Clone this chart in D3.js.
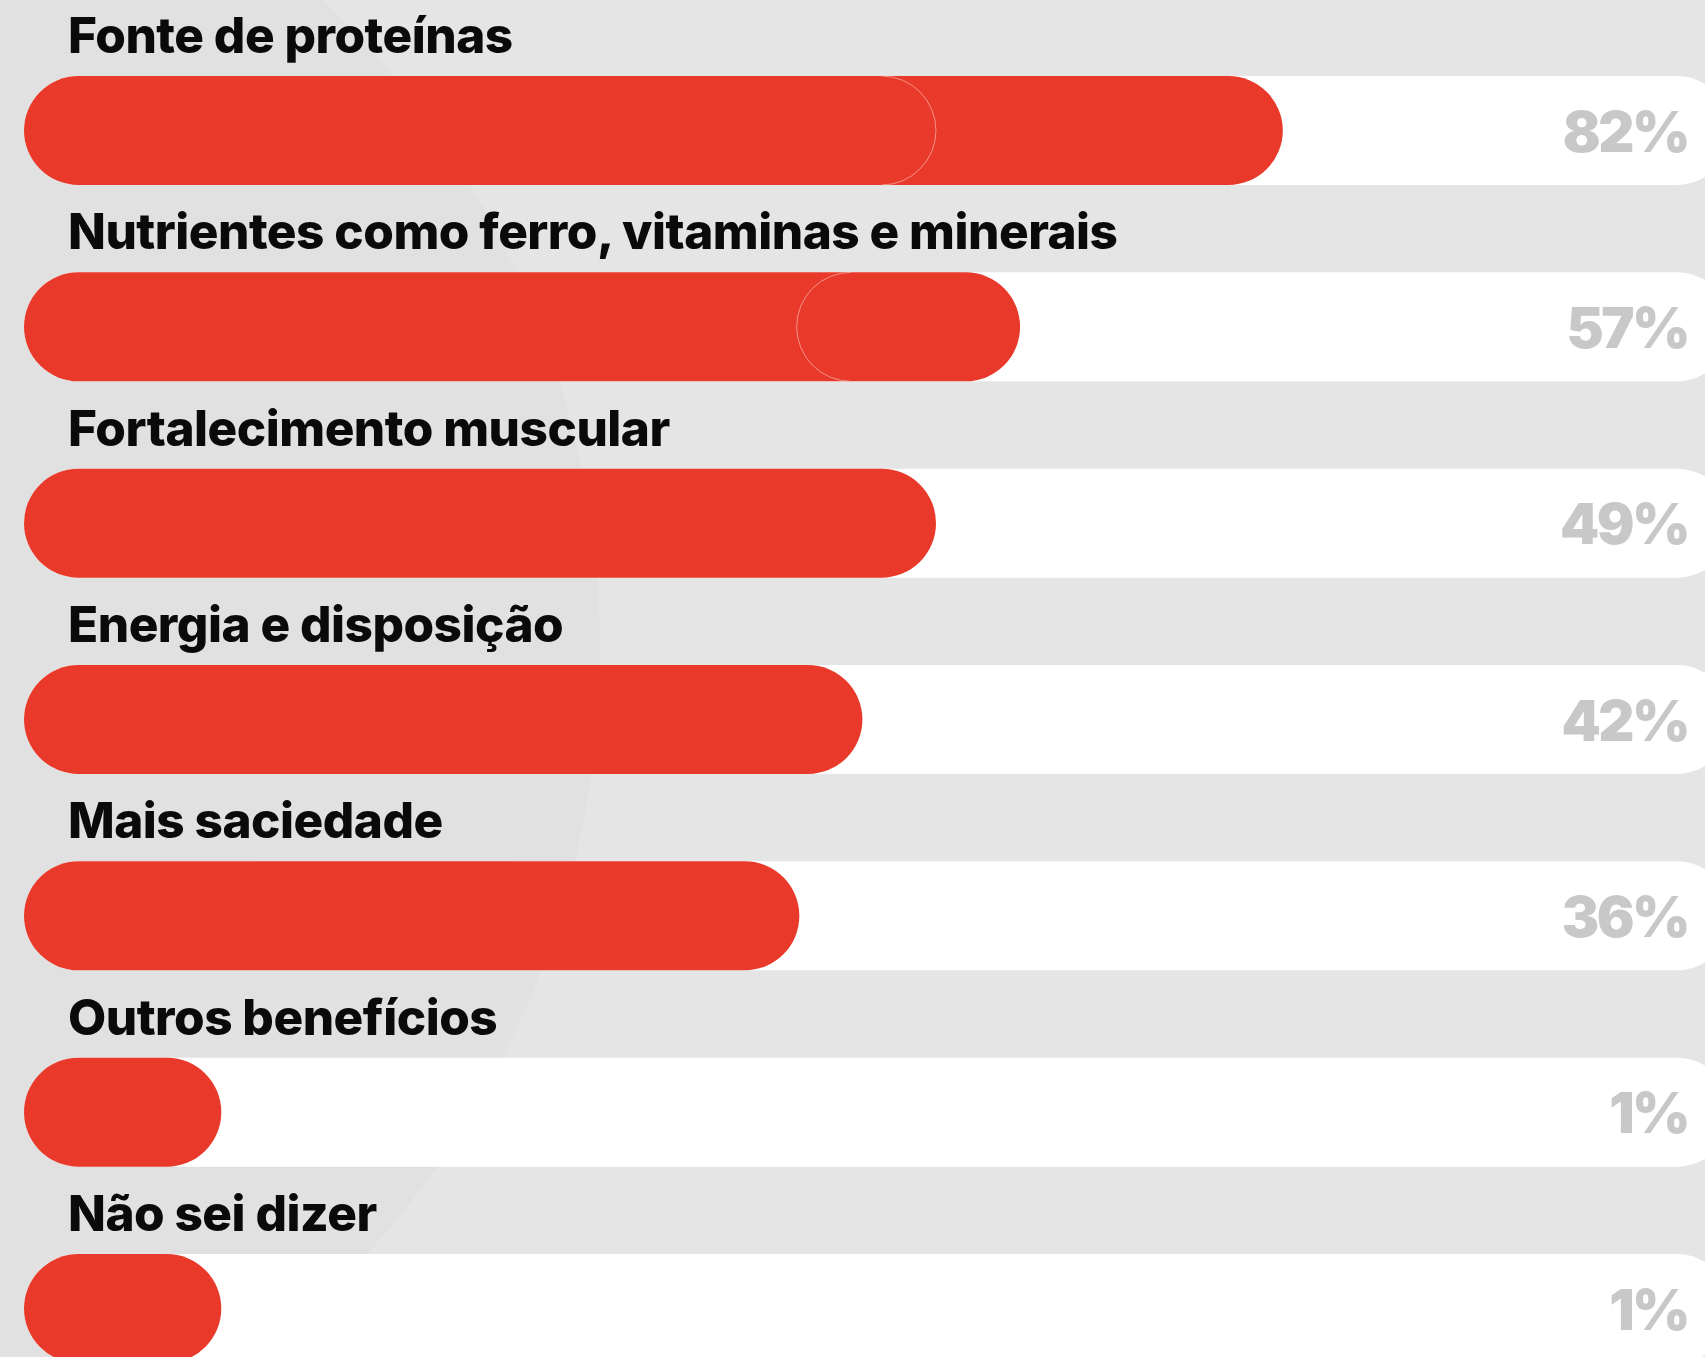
<!DOCTYPE html>
<html>
<head>
<meta charset="utf-8">
<script src="https://cdn.jsdelivr.net/npm/d3@7"></script>
<style>
  html, body { margin: 0; padding: 0; background: #e5e5e5; }
  svg { display: block; }
</style>
</head>
<body>
<svg id="chart" width="1705" height="1357"></svg>
<script>
// ---- data ----
const categories = [
  "Fonte de proteínas",
  "Nutrientes como ferro, vitaminas e minerais",
  "Fortalecimento muscular",
  "Energia e disposição",
  "Mais saciedade",
  "Outros benefícios",
  "Não sei dizer"
];
const values = [82, 57, 49, 42, 36, 1, 1];
const valueLabels = ["82%", "57%", "49%", "42%", "36%", "1%", "1%"];

// ---- layout ----
const W = 1705, H = 1357;
const barH = 109;
const barX0 = 24;
const trackEnd = 1731;
const labelX = 68;
const pctRight = 1688;
const minPill = barH * 1.81;   // stub length for very small shares
const stubBelow = 5;
const red = "#e9392a";
const labelFont = "Inter, 'Open Sans', sans-serif";

const svg = d3.select("#chart");

// background with faint large circle
svg.append("rect").attr("width", W).attr("height", H).attr("fill", "#e5e5e5");
svg.append("circle").attr("cx", -300).attr("cy", 650).attr("r", 900).attr("fill", "#e1e1e1");

// scales
const y = d3.scalePoint().domain(categories).range([76, 1254]);
const x = d3.scaleLinear().domain([0, 100]).range([421, 1472]);
const barEnd = v => v < stubBelow ? barX0 + minPill : x(v);

const rows = categories.map((c, i) => ({ cat: c, v: values[i], lbl: valueLabels[i] }));

const g = svg.append("g").selectAll("g").data(rows).join("g")
  .attr("transform", d => `translate(0,${y(d.cat)})`);

// white track
g.append("rect")
  .attr("x", barX0).attr("y", 0)
  .attr("width", trackEnd - barX0).attr("height", barH)
  .attr("rx", barH / 2).attr("ry", barH / 2)
  .attr("fill", "#ffffff");

// red pill
g.append("rect")
  .attr("x", barX0).attr("y", 0)
  .attr("width", d => barEnd(d.v) - barX0).attr("height", barH)
  .attr("rx", barH / 2).attr("ry", barH / 2)
  .attr("fill", red);

// category labels
const labels = g.append("text")
  .attr("x", labelX).attr("y", -23)
  .attr("font-family", labelFont)
  .attr("font-weight", 800)
  .attr("font-size", 46)
  .attr("letter-spacing", -0.5)
  .attr("fill", "#0a0a0a")
  .text(d => d.cat);

// fit label size so the longest label spans its width in the artwork
const longest = labels.filter(d => d.cat === categories[1]).node();
const wNow = longest.getComputedTextLength();
const fitted = Math.max(40, Math.min(52, 46 * 1048 / wNow));
labels.attr("font-size", fitted);

// percentage labels
g.append("text")
  .attr("x", pctRight).attr("y", barH / 2 + 21)
  .attr("text-anchor", "end")
  .attr("font-family", "Inter, Lato, sans-serif")
  .attr("font-weight", 900)
  .attr("font-size", 56)
  .attr("letter-spacing", -2.5)
  .attr("fill", "#c8c8c8")
  .text(d => d.lbl);

// faint layered-pill artifacts seen in the artwork
const r = barH / 2;
const arcStyle = s => s.attr("fill", "none").attr("stroke", "#f6a89e").attr("stroke-width", 1).attr("opacity", 0.8);
svg.append("path")
  .attr("d", () => {
    const ex = x(values[2]) - r, t = y(categories[0]);
    return `M${ex},${t} A${r},${r} 0 0 1 ${ex},${t + barH}`;
  }).call(arcStyle);
svg.append("path")
  .attr("d", () => {
    const sx = barEnd(values[1]) - 2.05 * barH + r, t = y(categories[1]);
    return `M${sx},${t} A${r},${r} 0 0 0 ${sx},${t + barH}`;
  }).call(arcStyle);
</script>
</body>
</html>
